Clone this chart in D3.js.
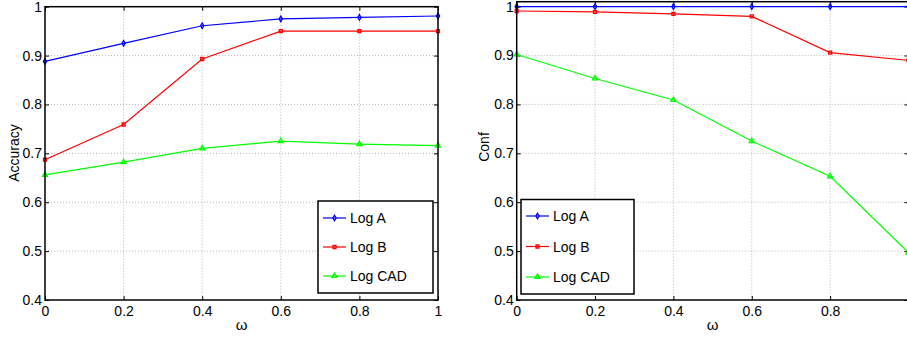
<!DOCTYPE html>
<html><head><meta charset="utf-8">
<script src="https://cdn.jsdelivr.net/npm/d3@7"></script>
<style>
body{margin:0;background:#fff;}
svg text{font-family:"Liberation Sans",Arial,sans-serif;fill:#000;}
</style></head><body>
<svg id="c" width="907" height="339"></svg>
<script>
const omega = [0, 0.2, 0.4, 0.6, 0.8, 1.0];
const seriesNames = ["Log A", "Log B", "Log CAD"];
const accLogA = [0.888, 0.925, 0.961, 0.975, 0.978, 0.981];
const accLogB = [0.687, 0.759, 0.893, 0.950, 0.950, 0.950];
const accLogCAD = [0.656, 0.682, 0.710, 0.725, 0.719, 0.716];
const confLogA = [1.0, 1.0, 1.0, 1.0, 1.0, 1.0];
const confLogB = [0.991, 0.989, 0.985, 0.980, 0.906, 0.890];
const confLogCAD = [0.902, 0.853, 0.809, 0.725, 0.653, 0.497];
const xTicks = [0, 0.2, 0.4, 0.6, 0.8, 1];
const yTicks = [0.4, 0.5, 0.6, 0.7, 0.8, 0.9, 1];
const colors = ["#0000ff", "#ff0000", "#00ff00"];
const markers = ["diamond", "square", "triangle"];

const svg = d3.select("#c");

function drawPanel(cfg){
  const g = svg.append("g");
  const x = d3.scaleLinear().domain([0,1]).range([cfg.x0, cfg.x1]);
  const y = d3.scaleLinear().domain(cfg.ydom).range([cfg.yb, cfg.yt]);
  const clipId = "clip"+cfg.id;
  svg.append("clipPath").attr("id", clipId).append("rect")
    .attr("x", cfg.x0-4).attr("y", cfg.yt-4).attr("width", cfg.x1-cfg.x0+8).attr("height", cfg.yb-cfg.yt+8);
  // grid
  g.selectAll(".gx").data(xTicks.slice(1,-1)).enter().append("line")
    .attr("x1", d=>x(d)).attr("x2", d=>x(d)).attr("y1", cfg.yt).attr("y2", cfg.yb)
    .attr("stroke", "#b8b8b8").attr("stroke-width", 1).attr("stroke-dasharray", "1,2");
  g.selectAll(".gy").data(yTicks.filter(t=>t>cfg.ydom[0] && y(t)>cfg.yt+1)).enter().append("line")
    .attr("x1", cfg.x0).attr("x2", cfg.x1).attr("y1", d=>y(d)).attr("y2", d=>y(d))
    .attr("stroke", "#b8b8b8").attr("stroke-width", 1).attr("stroke-dasharray", "1,2");
  // ticks (inward, all sides)
  const tl = 4;
  const xLabTicks = xTicks.filter(t => x(t) < 900);
  const axB = d3.axisBottom(x).tickValues(xLabTicks).tickSize(-tl).tickPadding(6).tickFormat(d3.format("~g"));
  const axT = d3.axisTop(x).tickValues(xTicks).tickSize(-tl).tickFormat("");
  const axL = d3.axisLeft(y).tickValues(yTicks).tickSize(-tl).tickPadding(3).tickFormat(d3.format("~g"));
  const axR = d3.axisRight(y).tickValues(yTicks).tickSize(-tl).tickFormat("");
  const styleAx = (sel)=>{ sel.select(".domain").remove(); sel.selectAll("line").attr("stroke","#000"); sel.selectAll("text").attr("font-size","14px").attr("font-family","'Liberation Sans',Arial,sans-serif").attr("fill","#000"); };
  g.append("g").attr("transform",`translate(0,${cfg.yb})`).call(axB).call(styleAx);
  g.append("g").attr("transform",`translate(0,${cfg.yt})`).call(axT).call(styleAx);
  g.append("g").attr("transform",`translate(${cfg.x0},0)`).call(axL).call(styleAx);
  g.append("g").attr("transform",`translate(${cfg.x1},0)`).call(axR).call(styleAx);
  // series
  const lg = g.append("g").attr("clip-path", `url(#${clipId})`);
  const line = d3.line().x((d,i)=>x(omega[i])).y(d=>y(d));
  const sym = {diamond: d3.symbol().type(d3.symbolDiamond).size(9),
               square: d3.symbol().type(d3.symbolSquare).size(9),
               triangle: d3.symbol().type(d3.symbolTriangle).size(11)};
  cfg.series.forEach((vals, k)=>{
    lg.append("path").attr("d", line(vals)).attr("fill","none").attr("stroke", colors[k]).attr("stroke-width",1.2);
    lg.selectAll(null).data(vals).enter().append("path")
      .attr("transform",(d,i)=>`translate(${x(omega[i])},${y(d)})`)
      .attr("d", sym[markers[k]]()).attr("fill","none").attr("stroke",colors[k]).attr("stroke-width",1.3);
  });
  // frame
  g.append("rect").attr("x",cfg.x0).attr("y",cfg.yt).attr("width",cfg.x1-cfg.x0).attr("height",cfg.yb-cfg.yt)
    .attr("fill","none").attr("stroke","#000").attr("stroke-width",1.5);
  // labels
  g.append("text").attr("x",(cfg.x0+cfg.x1)/2).attr("y",330).attr("text-anchor","middle").attr("font-size","15px").text("ω");
  g.append("text").attr("transform",`translate(${cfg.ylabX},${cfg.ylabY}) rotate(-90)`).attr("text-anchor","middle")
    .attr("font-size","14px").text(cfg.ylabel);
  // legend
  const L = cfg.legend;
  g.append("rect").attr("x",L.x).attr("y",L.y).attr("width",L.w).attr("height",L.h)
    .attr("fill","#fff").attr("stroke","#000").attr("stroke-width",1.5);
  seriesNames.forEach((nm,k)=>{
    const ry = L.y + L.row0 + k*L.dy;
    g.append("line").attr("x1",L.x+5).attr("x2",L.x+28).attr("y1",ry).attr("y2",ry).attr("stroke",colors[k]).attr("stroke-width",1.2);
    g.append("path").attr("transform",`translate(${L.x+16.5},${ry})`).attr("d",sym[markers[k]]())
      .attr("fill","none").attr("stroke",colors[k]).attr("stroke-width",1.3);
    g.append("text").attr("x",L.x+32).attr("y",ry+5).attr("font-size","14px").text(nm);
  });
}

drawPanel({id:"a", x0:45, x1:438, yt:6.7, yb:300, ydom:[0.4,1.0], ylabel:"Accuracy", ylabX:19, ylabY:153,
  series:[accLogA, accLogB, accLogCAD],
  legend:{x:318, y:201, w:115, h:92, row0:17, dy:29}});
drawPanel({id:"b", x0:516.7, x1:908.5, yt:1.7, yb:300, ydom:[0.4,1.01], ylabel:"Conf", ylabX:489, ylabY:147,
  series:[confLogA, confLogB, confLogCAD],
  legend:{x:521, y:199.5, w:113, h:94.5, row0:16.5, dy:30.5}});
</script>
</body></html>
